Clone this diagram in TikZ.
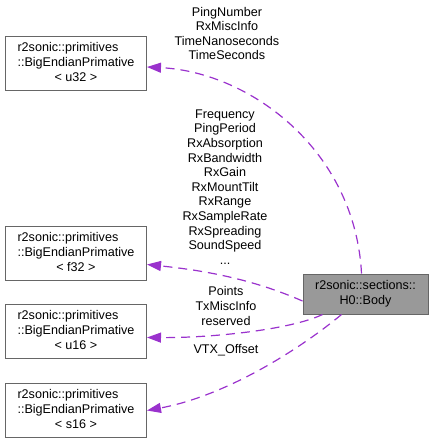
\documentclass[tikz,border=0pt]{standalone}
\usepackage{fontspec}
\setmainfont{Liberation Sans}
\usetikzlibrary{arrows.meta,positioning}
\definecolor{edgepurple}{HTML}{9A32CD}
\definecolor{boxline}{HTML}{666666}
\definecolor{bodyfill}{HTML}{999999}
\newcommand{\dxfont}{\fontsize{12.6}{15}\selectfont}
\newcommand{\primlabel}[1]{\begin{tabular}{@{}l@{}}r2sonic::primitives\\::BigEndianPrimative\\\multicolumn{1}{@{}c@{}}{< #1 >}\end{tabular}}
\tikzset{
  classbox/.style={draw=boxline,fill=white,line width=1pt,
                   minimum width=141pt,minimum height=54pt,
                   inner sep=0pt,font=\dxfont},
  bodybox/.style={draw=boxline,fill=bodyfill,line width=1pt,
                  minimum width=125pt,minimum height=40pt,
                  inner sep=0pt,align=center,font=\dxfont},
  memberlbl/.style={align=center,inner sep=0pt,
                    font=\fontsize{12.6}{14.6}\selectfont},
  usesarr/.style={-{Triangle[length=14pt,width=10pt]},draw=edgepurple,
                  line width=1.2pt,dash pattern=on 9pt off 6pt}
}
\begin{document}
\begin{tikzpicture}[x=1pt,y=-1pt]
  \useasboundingbox (0,0) rectangle (435,443);

  % class nodes
  \node[bodybox] (body) at (365.5,294) {r2sonic::sections::\\H0::Body};
  \node[classbox] (u32) at (76,64) {\primlabel{u32}};
  \node[classbox] (f32) at (76,253.5) {\primlabel{f32}};
  \node[classbox] (u16) at (76,331.5) {\primlabel{u16}};
  \node[classbox] (s16) at (76,410.5) {\primlabel{s16}};

  % member labels
  \node[memberlbl] (lu32) at (227,33.5)
    {PingNumber\\RxMiscInfo\\TimeNanoseconds\\TimeSeconds};
  \node[memberlbl] (lf32) at (225,187)
    {Frequency\\PingPeriod\\RxAbsorption\\RxBandwidth\\RxGain\\RxMountTilt\\RxRange\\RxSampleRate\\RxSpreading\\SoundSpeed\\...};
  \node[memberlbl] (lu16) at (226,306) {Points\\TxMiscInfo\\reserved};
  \node[memberlbl] (ls16) at (226,350) {VTX\_Offset};

  % uses edges
  \draw[usesarr] ([xshift=-4pt]body.north) .. controls (355,150) and (250,72) .. ([yshift=-3pt]u32.east);
  \draw[usesarr] ([yshift=-7pt]body.west) .. controls (250,278) and (200,270) .. ([yshift=-11pt]f32.east);
  \draw[usesarr] ([xshift=20pt]body.south west) .. controls (290,330) and (210,338) .. ([yshift=-6pt]u16.east);
  \draw[usesarr] ([xshift=39pt]body.south west) .. controls (305,345) and (230,395) .. (s16.east);
\end{tikzpicture}
\end{document}
